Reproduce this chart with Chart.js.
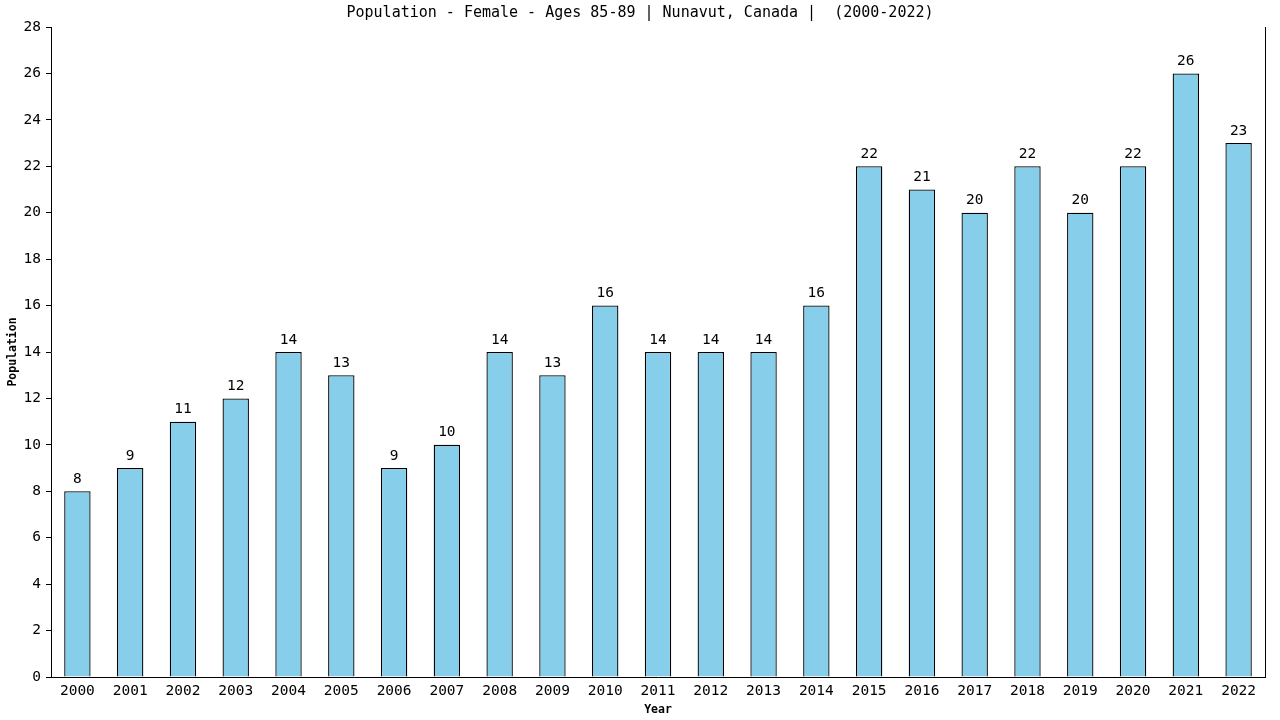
<!DOCTYPE html>
<html><head><meta charset="utf-8">
<script src="https://cdn.jsdelivr.net/npm/chart.js@4.4.0/dist/chart.umd.min.js"></script>
<style>html,body{margin:0;padding:0;background:#fff}#wrap{width:1280px;height:720px}</style>
</head><body><div id="wrap"><canvas id="c"></canvas></div>
<script>
const years = ["2000","2001","2002","2003","2004","2005","2006","2007","2008","2009","2010","2011","2012","2013","2014","2015","2016","2017","2018","2019","2020","2021","2022"];
const population = [8,9,11,12,14,13,9,10,14,13,16,14,14,14,16,22,21,20,22,20,22,26,23];
const titleText = "Population - Female - Ages 85-89 | Nunavut, Canada |  (2000-2022)";
const FONT = "'DejaVu Sans Mono', monospace";

const extras = {
  id: 'extras',
  afterDatasetsDraw(chart) {
    const ctx = chart.ctx, ca = chart.chartArea;
    ctx.save();
    ctx.strokeStyle = '#000'; ctx.lineWidth = 1;
    ctx.beginPath(); ctx.moveTo(Math.round(ca.right) + 0.5, ca.top); ctx.lineTo(Math.round(ca.right) + 0.5, ca.bottom); ctx.stroke();
    ctx.fillStyle = '#000';
    ctx.font = "14.5px " + FONT;
    ctx.textAlign = 'center'; ctx.textBaseline = 'bottom';
    const meta = chart.getDatasetMeta(0);
    meta.data.forEach((bar, i) => {
      ctx.fillText(String(chart.data.datasets[0].data[i]), bar.x, bar.y - 5);
    });
    ctx.font = "15px " + FONT;
    ctx.textBaseline = 'middle';
    ctx.fillText(titleText, 640, 13);
    ctx.restore();
  }
};

new Chart(document.getElementById('c'), {
  type: 'bar',
  data: { labels: years, datasets: [{ data: population, backgroundColor: '#87CEEB', borderColor: '#000', borderWidth: 1.3, categoryPercentage: 1, barPercentage: 0.5 }] },
  options: {
    responsive: true, maintainAspectRatio: false, animation: false, devicePixelRatio: 1,
    layout: { padding: { top: 27, right: 15, left: 0, bottom: 0 } },
    plugins: { legend: { display: false }, tooltip: { enabled: false }, title: { display: false } },
    scales: {
      x: {
        grid: { display: false },
        border: { display: true, color: '#000' },
        ticks: { color: '#000', font: { family: FONT, size: 14.5 }, maxRotation: 0, autoSkip: false, padding: -2 },
        title: { display: true, text: 'Year', color: '#000', font: { family: FONT, size: 11.5, weight: 'bold' }, padding: { top: 0, bottom: 3 } },
        afterFit(s) { s.height = 43; }
      },
      y: {
        min: 0, max: 28,
        grid: { drawOnChartArea: false, drawTicks: true, tickLength: 5, color: '#000' },
        border: { display: true, color: '#000' },
        ticks: { stepSize: 2, color: '#000', font: { family: FONT, size: 14.5 }, padding: 5 },
        title: { display: true, text: 'Population', color: '#000', font: { family: FONT, size: 11.5, weight: 'bold' }, padding: { top: 6, bottom: 0 } },
        afterFit(s) { s.width = 51; }
      }
    }
  },
  plugins: [extras]
});
</script></body></html>
